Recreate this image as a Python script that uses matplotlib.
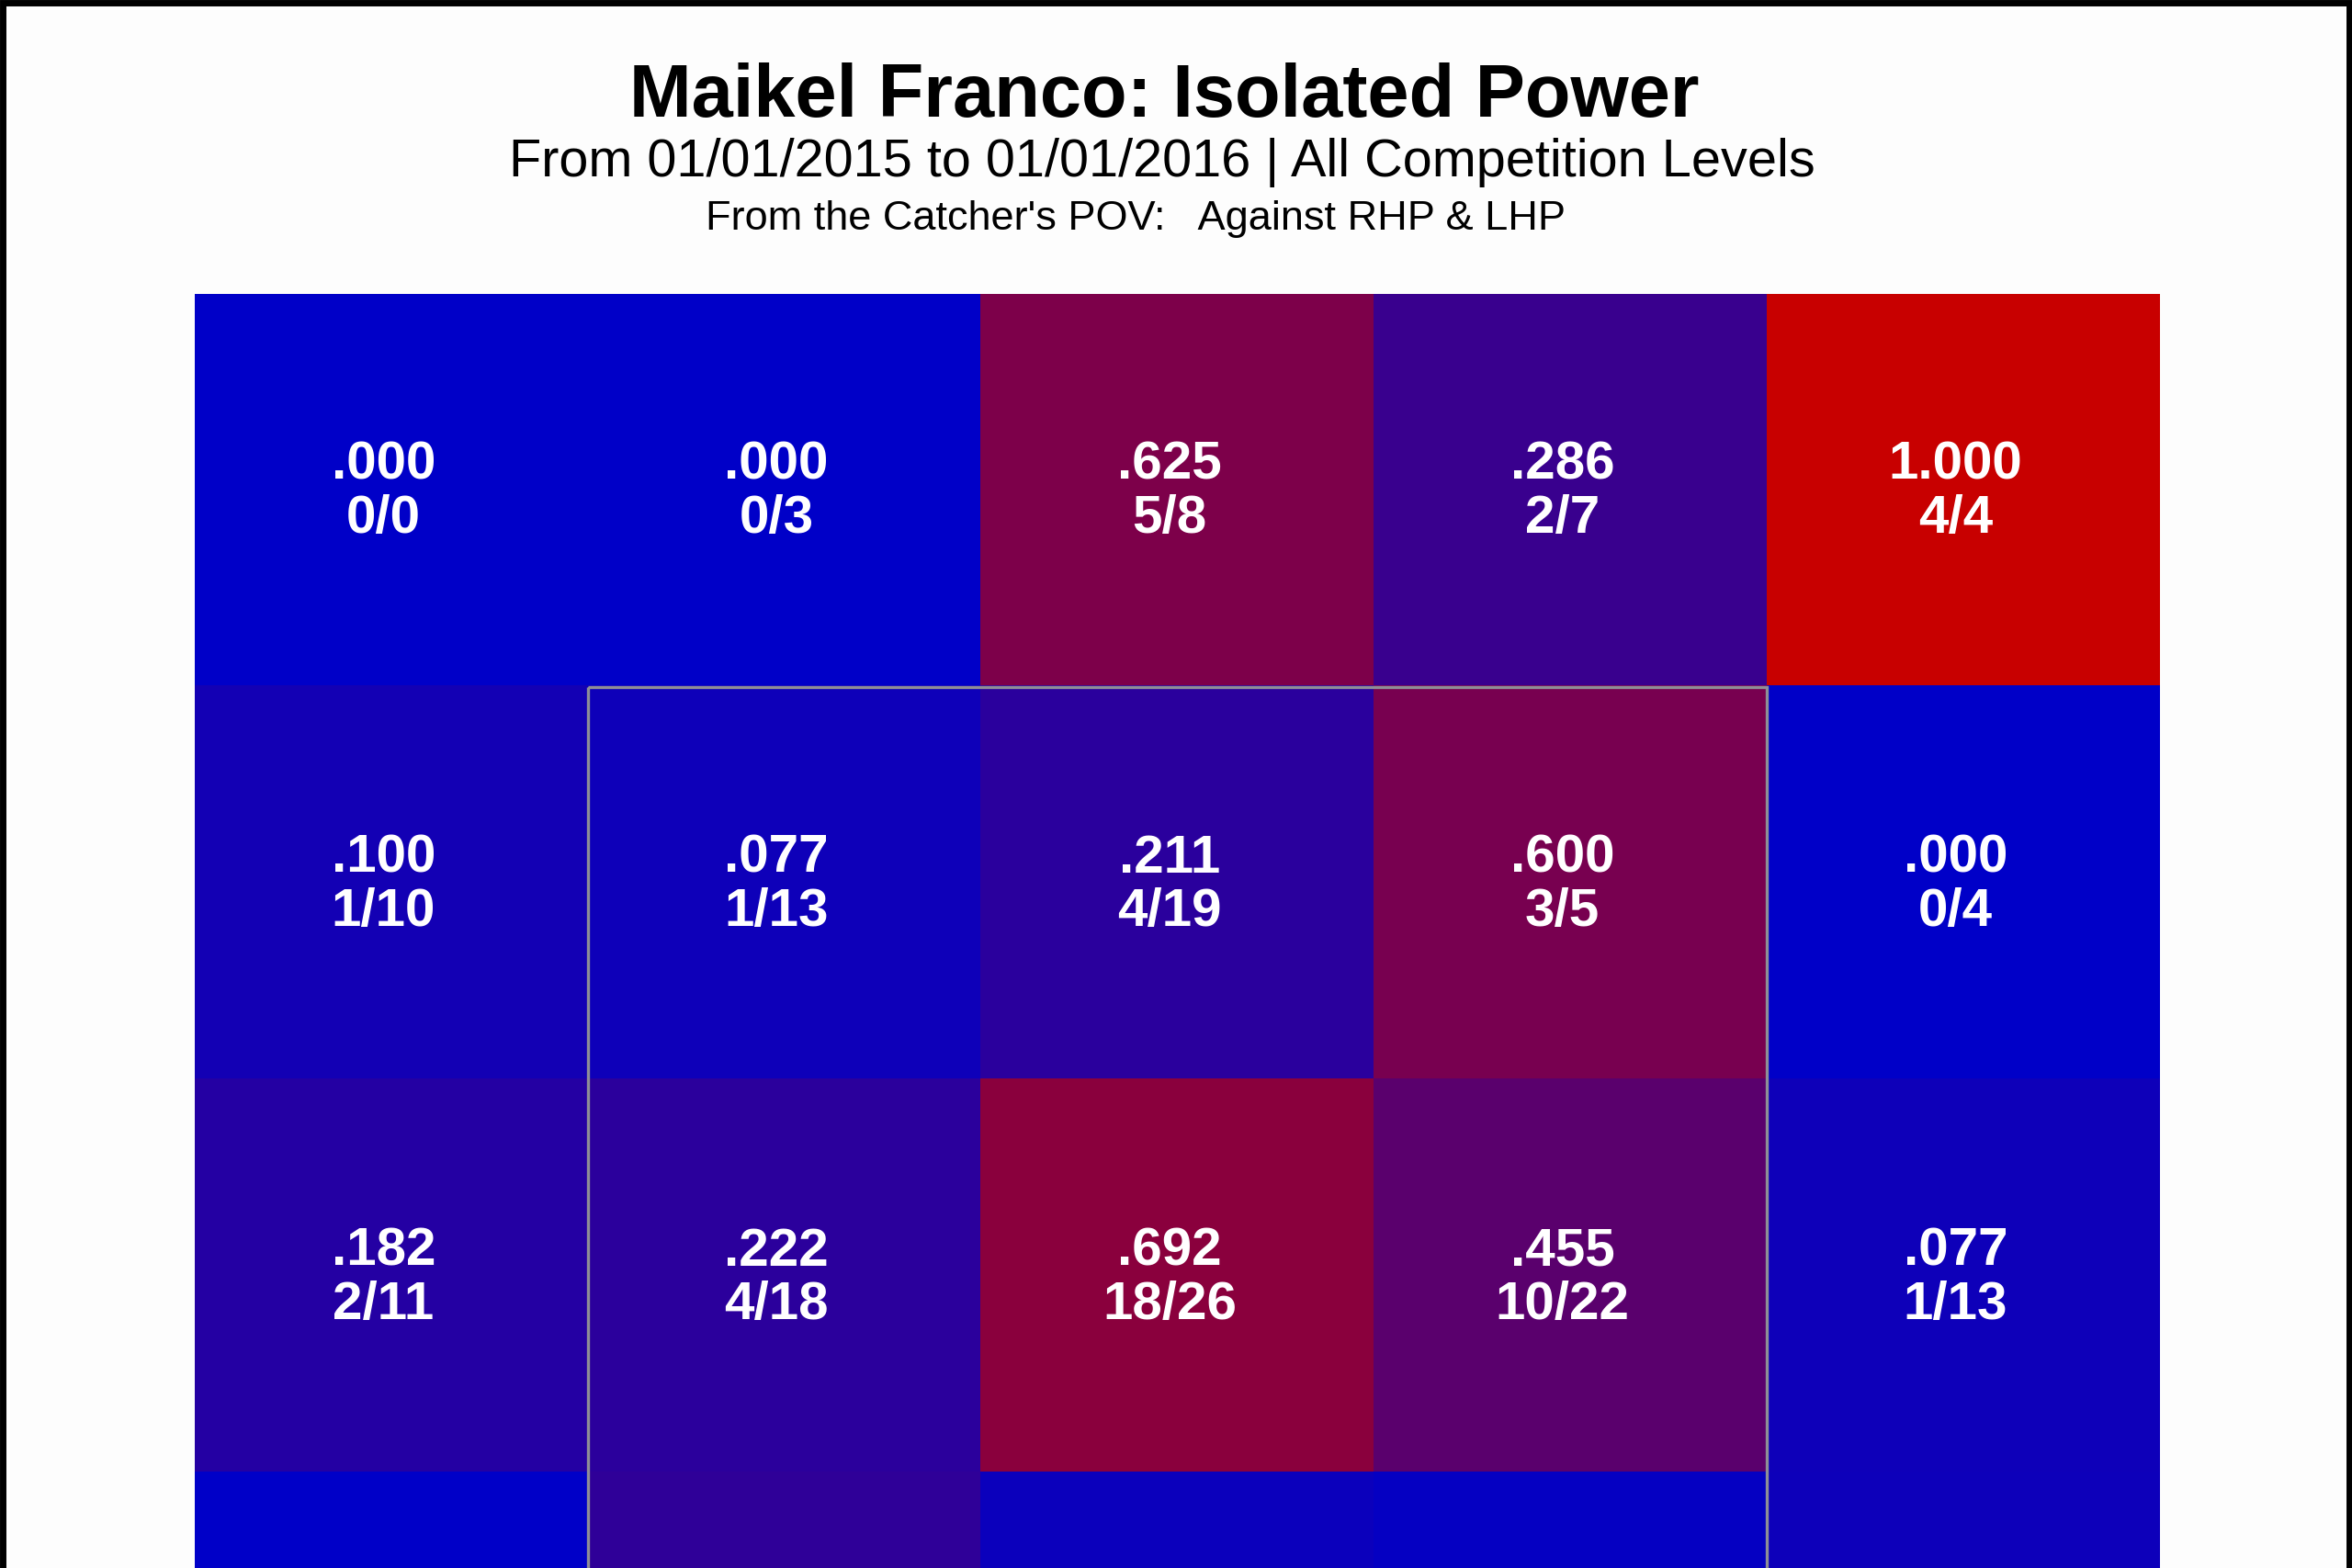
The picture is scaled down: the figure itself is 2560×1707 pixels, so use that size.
import matplotlib
matplotlib.use("Agg")
import matplotlib.pyplot as plt
import numpy as np
from matplotlib.colors import LinearSegmentedColormap
from matplotlib.patches import Rectangle

# ---- data ----
title = "Maikel Franco: Isolated Power"
subtitle = "From 01/01/2015 to 01/01/2016 | All Competition Levels"
subtitle2 = "From the Catcher's POV:   Against RHP & LHP"

iso_row0 = [0.000, 0.000, 0.625, 0.286, 1.000]
iso_row1 = [0.100, 0.077, 0.211, 0.600, 0.000]
iso_row2 = [0.182, 0.222, 0.692, 0.455, 0.077]
iso_row3 = [0.000, 0.240, 0.060, 0.030, 0.070]   # only colour visible (cut off)

frac_row0 = ["0/0", "0/3", "5/8", "2/7", "4/4"]
frac_row1 = ["1/10", "1/13", "4/19", "3/5", "0/4"]
frac_row2 = ["2/11", "4/18", "18/26", "10/22", "1/13"]

values = np.array([iso_row0, iso_row1, iso_row2, iso_row3])
labels = [frac_row0, frac_row1, frac_row2]

W, H = 2560, 1707
fig = plt.figure(figsize=(W / 100, H / 100), dpi=100, facecolor="#fdfdfd")

FONT = ["Liberation Sans", "DejaVu Sans"]

cmap = LinearSegmentedColormap.from_list("bluered", ["#0000c8", "#c80000"])

left_px, right_px, top_px = 212, 2351, 320
cell_px = (right_px - left_px) / 5
nrows = values.shape[0]
ax = fig.add_axes([left_px / W, 1 - (top_px + nrows * cell_px) / H,
                   (right_px - left_px) / W, nrows * cell_px / H])
ax.imshow(values, cmap=cmap, vmin=0, vmax=1, extent=(0, 5, nrows, 0),
          aspect="auto", interpolation="nearest")
ax.set_xlim(0, 5)
ax.set_ylim(nrows, 0)
ax.axis("off")

# strike zone box
ax.add_patch(Rectangle((1, 1), 3, 3, fill=False, edgecolor="#8e8e96",
                       linewidth=2.4, zorder=3))

for r, row in enumerate(labels):
    for c, lab in enumerate(row):
        v = values[r, c]
        s = f"{v:.3f}"
        if s.startswith("0"):
            s = s[1:]
        ax.text(c + 0.48, r + 0.505, s + "\n" + lab, ha="center", va="center",
                multialignment="center", color="white", fontsize=42,
                fontweight="bold", family=FONT, linespacing=1.1, zorder=4)

fig.text(1267 / W, 1 - 127 / H, title, ha="center", va="baseline",
         fontsize=58.5, fontweight="bold", family=FONT)
fig.text(1265 / W, 1 - 192 / H, subtitle, ha="center", va="baseline",
         fontsize=41.5, family=FONT)
fig.text(1236 / W, 1 - 250 / H, subtitle2, ha="center", va="baseline",
         fontsize=32.5, family=FONT)

# outer black frame
fig.patches.append(Rectangle((0.001, -0.01), 0.998, 1.008, transform=fig.transFigure,
                             fill=False, edgecolor="black", linewidth=5, zorder=10))

fig.savefig("out.png", dpi=100, facecolor=fig.get_facecolor())
